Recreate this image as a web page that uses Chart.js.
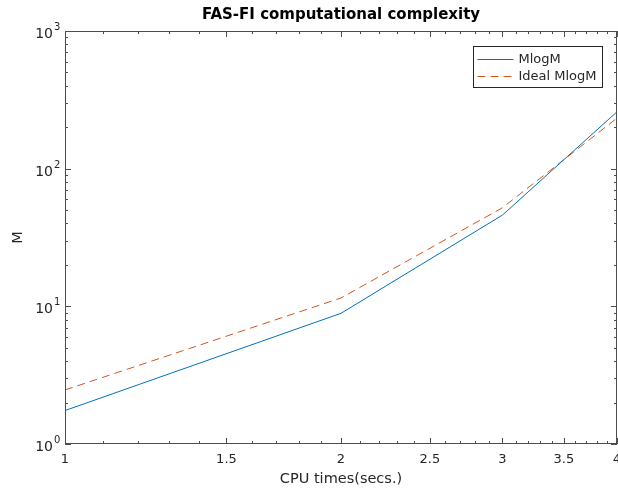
<!DOCTYPE html>
<html>
<head>
<meta charset="utf-8">
<script src="https://cdn.jsdelivr.net/npm/chart.js@4.4.0/dist/chart.umd.min.js"></script>
<style>
  html, body { margin: 0; padding: 0; background: #fff; }
  #wrap { width: 618px; height: 488px; }
</style>
</head>
<body>
<div id="wrap"><canvas id="chart"></canvas></div>
<script>
// data
const cpuTimes = [1, 2, 3, 4];
const mlogm = [1.75, 8.9, 46, 259];
const idealMlogm = [2.47, 11.5, 52, 233];
const xTicks = [1, 1.5, 2, 2.5, 3, 3.5, 4];
const yTicks = [1, 10, 100, 1000];
const yExponents = ["0", "1", "2", "3"];

const axisColor = "#4d4d4d";
const textColor = "#262626";
const fontFamily = "'DejaVu Sans', sans-serif";

// box around the plot, inward ticks on all four sides, y labels with exponents, legend
const boxPlugin = {
  id: "box",
  afterDatasetsDraw(chart) {
    const { ctx, chartArea: a, scales: { x, y } } = chart;
    ctx.save();
    ctx.strokeStyle = axisColor;
    ctx.lineWidth = 1;
    ctx.strokeRect(Math.round(a.left) + 0.5, Math.round(a.top) + 0.5,
      Math.round(a.right - a.left) - 1, Math.round(a.bottom - a.top) - 1);

    ctx.beginPath();
    // x ticks: major from xTicks, minor every 0.1
    for (let i = 10; i <= 40; i++) {
      const v = i / 10;
      const len = xTicks.includes(v) ? 6 : 3;
      const px = Math.round(x.getPixelForValue(v)) + 0.5;
      ctx.moveTo(px, a.bottom); ctx.lineTo(px, a.bottom - len);
      ctx.moveTo(px, a.top); ctx.lineTo(px, a.top + len);
    }
    // y ticks: decades major, 2..9 minor
    for (let d = 1; d < 1000; d *= 10) {
      for (let m = 1; m <= 10; m++) {
        const len = m === 1 || m === 10 ? 6 : 3;
        const py = Math.round(y.getPixelForValue(d * m)) + 0.5;
        ctx.moveTo(a.left, py); ctx.lineTo(a.left + len, py);
        ctx.moveTo(a.right, py); ctx.lineTo(a.right - len, py);
      }
    }
    ctx.stroke();

    // y tick labels: 10 with raised exponent
    ctx.fillStyle = textColor;
    ctx.textBaseline = "alphabetic";
    yTicks.forEach((v, i) => {
      const py = y.getPixelForValue(v);
      ctx.font = "14px " + fontFamily;
      ctx.textAlign = "right";
      ctx.fillText("10", a.left - 12, py + 7);
      ctx.font = "10px " + fontFamily;
      ctx.textAlign = "left";
      ctx.fillText(yExponents[i], a.left - 11, py - 1);
    });

    // legend
    const sets = chart.data.datasets;
    ctx.font = "13px " + fontFamily;
    ctx.textAlign = "left";
    const textW = Math.max(...sets.map(s => ctx.measureText(s.label).width));
    const bw = Math.round(45 + textW + 6);
    const bh = 41;
    const bx = Math.round(a.right - 15 - bw) + 0.5;
    const by = Math.round(a.top + 15) + 0.5;
    ctx.fillStyle = "#fff";
    ctx.fillRect(bx, by, bw, bh);
    ctx.strokeStyle = "#262626";
    ctx.strokeRect(bx, by, bw, bh);
    sets.forEach((s, i) => {
      const ly = Math.round(by + 12 + i * 17) + 0.5;
      ctx.strokeStyle = s.borderColor;
      ctx.setLineDash(s.borderDash || []);
      ctx.beginPath();
      ctx.moveTo(bx + 4, ly); ctx.lineTo(bx + 40, ly);
      ctx.stroke();
      ctx.setLineDash([]);
      ctx.fillStyle = textColor;
      ctx.textBaseline = "middle";
      ctx.fillText(s.label, bx + 45, ly);
    });
    ctx.restore();
  }
};

const ctx = document.getElementById("chart").getContext("2d");
new Chart(ctx, {
  type: "line",
  data: {
    datasets: [
      {
        label: "MlogM",
        data: cpuTimes.map((t, i) => ({ x: t, y: mlogm[i] })),
        borderColor: "#0072BD",
        borderWidth: 1,
        pointRadius: 0,
        tension: 0,
      },
      {
        label: "Ideal MlogM",
        data: cpuTimes.map((t, i) => ({ x: t, y: idealMlogm[i] })),
        borderColor: "#D95319",
        borderWidth: 1,
        borderDash: [8, 5],
        pointRadius: 0,
        tension: 0,
      },
    ],
  },
  options: {
    responsive: true,
    maintainAspectRatio: false,
    animation: false,
    layout: { padding: { left: 0, right: 1, top: 0, bottom: 0 } },
    scales: {
      x: {
        type: "logarithmic",
        min: 1,
        max: 4,
        grid: { display: false, drawTicks: false },
        border: { display: false },
        afterBuildTicks: s => { s.ticks = xTicks.map(v => ({ value: v })); },
        afterFit: s => { s.height = 44; s.paddingLeft = 0; s.paddingRight = 0; },
        ticks: {
          autoSkip: false,
          maxRotation: 0,
          padding: 8,
          color: textColor,
          font: { family: fontFamily, size: 13 },
          callback: v => String(v),
        },
        title: {
          display: true,
          text: "CPU times(secs.)",
          color: textColor,
          font: { family: fontFamily, size: 14.5 },
          padding: { top: 0, bottom: 0 },
        },
      },
      y: {
        type: "logarithmic",
        min: 1,
        max: 1000,
        grid: { display: false, drawTicks: false },
        border: { display: false },
        afterBuildTicks: s => { s.ticks = yTicks.map(v => ({ value: v })); },
        afterFit: s => { s.width = 65; },
        ticks: { display: false },
        title: {
          display: true,
          text: "M",
          color: textColor,
          font: { family: fontFamily, size: 14.5 },
          padding: { top: 10, bottom: 0 },
        },
      },
    },
    plugins: {
      legend: { display: false },
      tooltip: { enabled: false },
      title: {
        display: true,
        fullSize: false,
        text: "FAS-FI computational complexity",
        color: "#000",
        font: { family: fontFamily, size: 15, weight: "bold" },
        padding: { top: 6, bottom: 7 },
      },
    },
  },
  plugins: [boxPlugin],
});
</script>
</body>
</html>
